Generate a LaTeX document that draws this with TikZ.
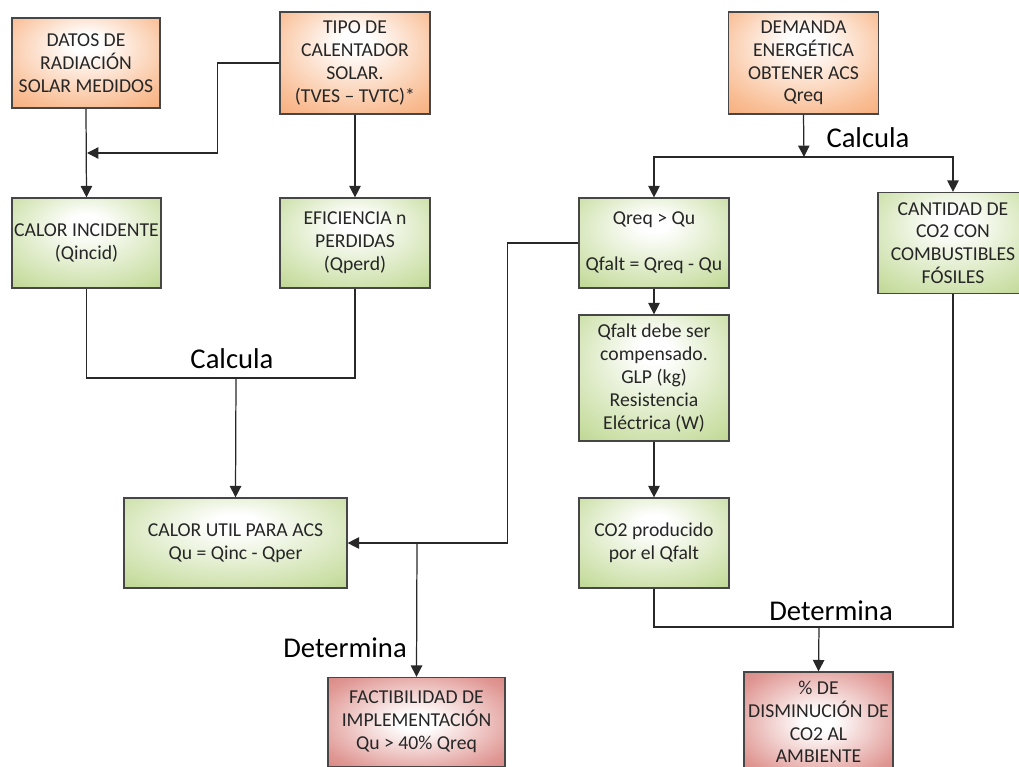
\documentclass[tikz,border=0pt]{standalone}
\usepackage{fontspec}
\setmainfont{Carlito}
\usepackage{tikz}
\usetikzlibrary{arrows.meta}

\definecolor{edgeorange}{RGB}{243,135,62}
\definecolor{midorange}{RGB}{249,188,146}
\definecolor{edgegreen}{RGB}{146,184,80}
\definecolor{midgreen}{RGB}{204,224,168}
\definecolor{edgered}{RGB}{190,76,72}
\definecolor{midred}{RGB}{224,152,148}
\definecolor{boxline}{RGB}{70,70,70}
\definecolor{wire}{RGB}{40,40,40}

% light spot a bit above the middle of each box
\pgfdeclareradialshading{orangeglow}{\pgfpoint{0bp}{12bp}}{color(0bp)=(white); color(5bp)=(white); color(32bp)=(midorange); color(60bp)=(edgeorange)}
\pgfdeclareradialshading{greenglow}{\pgfpoint{0bp}{12bp}}{color(0bp)=(white); color(5bp)=(white); color(32bp)=(midgreen); color(60bp)=(edgegreen)}
\pgfdeclareradialshading{redglow}{\pgfpoint{0bp}{0bp}}{color(0bp)=(white); color(5bp)=(white); color(30bp)=(midred); color(58bp)=(edgered)}

\begin{document}
\begin{tikzpicture}[x=0.02cm, y=-0.02cm,
    box/.style={draw=boxline, line width=0.7pt, align=center, inner sep=1pt,
        minimum width=3cm, minimum height=1.8cm, text=black!85,
        font=\fontsize{11.2}{13}\selectfont},
    datbox/.style={box, shading=orangeglow},
    calcbox/.style={box, shading=greenglow},
    resbox/.style={box, shading=redglow},
    flow/.style={draw=wire, line width=0.7pt, -{Triangle[length=6.5pt,width=6.5pt]}},
    joint/.style={draw=wire, line width=0.7pt},
    lbl/.style={font=\fontsize{16.3}{18}\selectfont, text=black}]

    \clip (0,0) rectangle (1019,767);

    % entradas
    \node [datbox, minimum width=2.96cm] (datos) at (86,63) {DATOS DE\\RADIACIÓN\\SOLAR MEDIDOS};
    \node [datbox, minimum height=2.04cm] (tipo) at (355,63) {TIPO DE\\CALENTADOR\\SOLAR.\\(TVES -- TVTC)*};
    \node [datbox, minimum height=2.04cm] (demanda) at (803.5,63) {DEMANDA\\ENERGÉTICA\\OBTENER ACS\\Qreq};

    % calculos
    \node [calcbox, minimum width=2.98cm] (incid) at (86.5,243) {CALOR INCIDENTE\\(Qincid)};
    \node [calcbox] (perd) at (355,243) {EFICIENCIA n\\PERDIDAS\\(Qperd)};
    \node [calcbox, minimum width=4.46cm] (util) at (235.5,543) {CALOR UTIL PARA ACS\\Qu = Qinc - Qper};
    \node [calcbox] (qreq) at (654,243) {Qreq > Qu\\[13pt]Qfalt = Qreq - Qu};
    \node [calcbox, minimum height=2.02cm] (cant) at (953,243) {CANTIDAD DE\\CO2 CON\\COMBUSTIBLES\\FÓSILES};
    \node [calcbox, minimum height=2.52cm] (qfalt) at (654,378) {Qfalt debe ser\\compensado.\\GLP (kg)\\Resistencia\\Eléctrica (W)};
    \node [calcbox] (co2p) at (654,543) {CO2 producido\\por el Qfalt};

    % resultados
    \node [resbox, minimum width=3.54cm, minimum height=1.78cm] (fact) at (416.5,722) {FACTIBILIDAD DE\\IMPLEMENTACIÓN\\Qu > 40\% Qreq};
    \node [resbox, minimum width=2.98cm, minimum height=2cm] (pct) at (818.5,722) {\% DE\\DISMINUCIÓN DE\\CO2 AL\\AMBIENTE};

    \coordinate (mixA) at (87,153);
    \coordinate (sumA) at (236,378);
    \coordinate (backU) at (417,543);
    \coordinate (splitR) at (804,157);
    \coordinate (sumB) at (819,627);

    \draw [flow] (tipo.west) -- ++(-62,0) |- (mixA);
    \draw [flow] (datos.south) -- (incid.north);
    \draw [flow] (tipo.south) -- (perd.north);

    \draw [joint] (incid.south) |- (sumA) -| (perd.south);
    \draw [flow] (sumA) -- (util.north);
    \node [lbl] (calcA) at (232,359) {Calcula};

    \draw [flow] (qreq.west) -- ++(-71,0) |- (util.east);
    \draw [flow] (backU) -- (fact.north);
    \node [lbl] (detA) at (345,648) {Determina};

    \draw [flow] (demanda.south) -- (splitR);
    \draw [flow] (splitR) -| (qreq.north);
    \draw [flow] (splitR) -| (cant.north);
    \node [lbl] (calcB) at (868,138) {Calcula};

    \draw [flow] (qreq.south) -- (qfalt.north);
    \draw [flow] (qfalt.south) -- (co2p.north);

    \draw [joint] (co2p.south) |- (sumB) -| (cant.south);
    \draw [flow] (sumB) -- (pct.north);
    \node [lbl] (detB) at (831,611) {Determina};

\end{tikzpicture}
\end{document}
